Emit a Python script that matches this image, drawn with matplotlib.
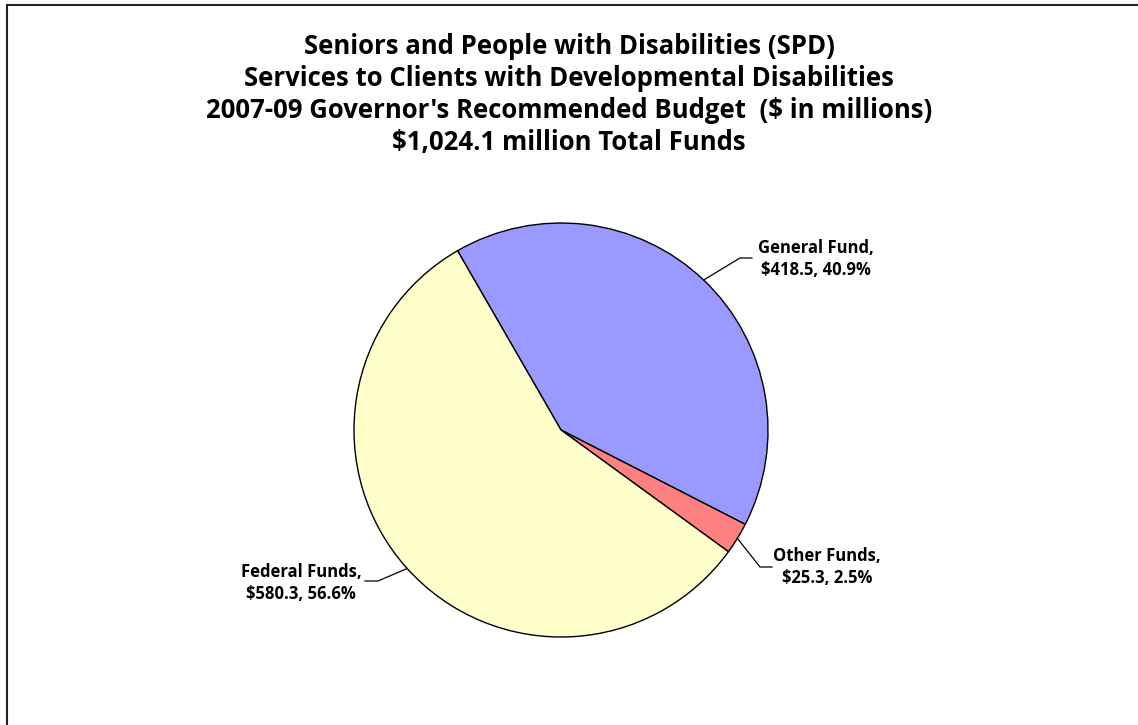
import numpy as np
import matplotlib.pyplot as plt
from matplotlib.patches import Rectangle

plt.rcParams['font.family'] = ['Open Sans', 'DejaVu Sans']

# data
funds = ["General Fund", "Other Funds", "Federal Funds"]
amounts = [418.5, 25.3, 580.3]
shares = [40.9, 2.5, 56.6]
colors = ["#9999FF", "#FF8080", "#FFFFCC"]

title_lines = [
    "Seniors and People with Disabilities (SPD)",
    "Services to Clients with Developmental Disabilities",
    "2007-09 Governor's Recommended Budget  ($ in millions)",
    "$1,024.1 million Total Funds",
]

W, H = 1138, 725
fig = plt.figure(figsize=(W / 100, H / 100), dpi=100)
ax = fig.add_axes([0, 0, 1, 1])
ax.set_xlim(0, W)
ax.set_ylim(0, H)
ax.set_aspect('equal')
ax.axis('off')

# frame (runs off the right/bottom edge)
ax.add_patch(Rectangle((7, -20), W + 40, H - 5 + 20, fill=False,
                       edgecolor='#222222', lw=1.5))

cx, cy, r = 561, H - 430, 207
wedges, _ = ax.pie(amounts, colors=colors, startangle=120, counterclock=False,
                   center=(cx, cy), radius=r,
                   wedgeprops=dict(edgecolor='black', linewidth=1.0))
ax.set_xlim(0, W)
ax.set_ylim(0, H)

# label block centres and elbow points (pixel coords, y from top)
label_pos = [(816, 259), (827, 567), (301, 583)]
elbows = [((740, 258), (752, 258)), ((760, 567), (772, 567)),
          ((378, 581), (365, 581))]

for w, name, amt, pct, (lx, ly), (e1, e2) in zip(wedges, funds, amounts, shares,
                                                  label_pos, elbows):
    mid = np.deg2rad((w.theta1 + w.theta2) / 2)
    ax0, ay0 = cx + r * np.cos(mid), cy + r * np.sin(mid)
    ax.plot([ax0, e1[0], e2[0]], [ay0, H - e1[1], H - e2[1]],
            color='black', lw=0.9)
    ax.text(lx, H - ly, f"{name},\n${amt:.1f}, {pct:.1f}%", ha='center',
            va='center', fontsize=12, fontweight='bold', linespacing=1.35)

for i, line in enumerate(title_lines):
    ax.text(569, H - (46 + 32 * i), line, ha='center', va='center',
            fontsize=18.5, fontweight='bold')

fig.savefig("out.png", dpi=100)
